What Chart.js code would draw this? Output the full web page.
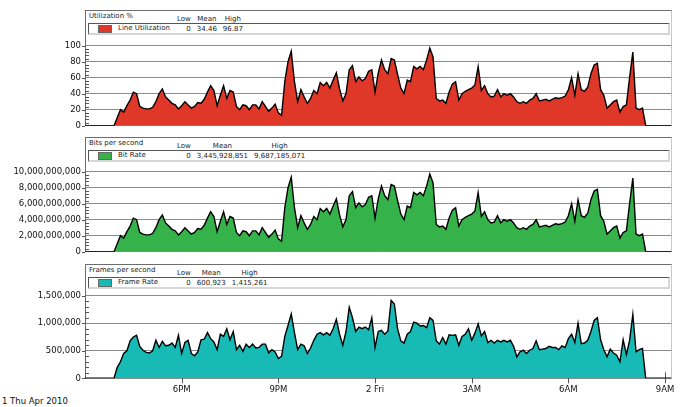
<!DOCTYPE html>
<html lang="en">
<head>
<meta charset="UTF-8">
<title>Link Statistics</title>
<script src="https://cdn.jsdelivr.net/npm/chart.js"></script>
<style>
  body { margin: 0; background: #fff; font-family: 'DejaVu Sans', sans-serif; color: #222; }
  #page { position: relative; width: 684px; height: 407px; overflow: hidden; }
  .panel { position: absolute; left: 85px; width: 585px; border-top: 1px solid #6d6d6d; border-left: 1px solid #6d6d6d; border-right: 1px solid #c8c8c8; }
  .title { position: absolute; left: 3px; top: 0; font-size: 7px; line-height: 10px; white-space: nowrap; }
  .legend { position: absolute; left: 2px; right: 1px; top: 12px; height: 9px; border-top: 1px solid #555; border-left: 1px solid #555; border-bottom: 2px solid #d6d6d6; border-right: 2px solid #d6d6d6; }
  .swatch { position: absolute; left: 9px; top: 1px; width: 12px; height: 6px; border: 1px solid #666; }
  .name { position: absolute; left: 29px; top: 0; font-size: 7px; line-height: 9px; white-space: nowrap; }
  .stats { position: absolute; left: 91px; top: 3px; display: flex; gap: 6px; font-size: 7px; line-height: 10px; white-space: nowrap; }
  .stats div { display: flex; flex-direction: column; align-items: center; }
  .stats div:first-child { align-items: flex-end; }
  .date { position: absolute; left: 2px; top: 396px; font-size: 8.5px; line-height: 11px; color: #111; }
  canvas { position: absolute; left: 0; }
</style>
</head>
<body>
<div id="page">
  <div class="panel" style="top:10px;height:115px">
    <div class="title">Utilization %</div>
    <div class="stats"><div><span>Low</span><span>0</span></div><div><span>Mean</span><span>34.46</span></div><div><span>High</span><span>96.87</span></div></div>
    <div class="legend"><div class="swatch" style="background:#e03828"></div><div class="name">Line Utilization</div></div>
  </div>
  <div class="panel" style="top:137px;height:114px">
    <div class="title">Bits per second</div>
    <div class="stats"><div><span>Low</span><span>0</span></div><div><span>Mean</span><span>3,445,928,851</span></div><div><span>High</span><span>9,687,185,071</span></div></div>
    <div class="legend"><div class="swatch" style="background:#35b34a"></div><div class="name">Bit Rate</div></div>
  </div>
  <div class="panel" style="top:264px;height:114px">
    <div class="title">Frames per second</div>
    <div class="stats"><div><span>Low</span><span>0</span></div><div><span>Mean</span><span>600,923</span></div><div><span>High</span><span>1,415,261</span></div></div>
    <div class="legend"><div class="swatch" style="background:#18bab6"></div><div class="name">Frame Rate</div></div>
  </div>
  <div class="date">1 Thu Apr 2010</div>
  <canvas id="utilChart" width="684" height="132" style="top:0"></canvas>
  <canvas id="bitsChart" width="684" height="132" style="top:126px"></canvas>
  <canvas id="framesChart" width="684" height="152" style="top:255px"></canvas>
</div>

<script>
  // samples every 6 minutes, starting 3:00 PM Thu 1 Apr 2010
  const stepHours = 0.1;
  const tickHours = [3, 6, 9, 12, 15, 18];
  const tickLabels = ["6PM", "9PM", "2 Fri", "3AM", "6AM", "9AM"];

  // Line Utilization (%)
  const utilization = [
    0, 0, 0, 0, 0, 0, 0, 0, 0, 0,
    10, 20, 17, 25, 32, 42, 40, 24, 22, 21,
    21, 23, 30, 40, 46, 36, 32, 28, 26, 21,
    25, 30, 26, 22, 24, 29, 28, 33, 42, 50,
    44, 25, 38, 50, 34, 44, 42, 24, 20, 26,
    25, 20, 26, 26, 21, 30, 24, 18, 22, 27,
    16, 13, 55, 80, 93, 55, 30, 45, 36, 28,
    34, 44, 40, 54, 50, 54, 47, 57, 66, 46,
    31, 40, 70, 75, 55, 61, 56, 59, 68, 70,
    42, 66, 82, 70, 65, 84, 82, 64, 47, 40,
    57, 55, 74, 71, 74, 70, 82, 97, 86, 34,
    31, 32, 28, 42, 52, 55, 32, 40, 43, 45,
    47, 51, 74, 44, 50, 40, 36, 37, 45, 36,
    40, 38, 40, 36, 30, 28, 30, 28, 32, 34,
    40, 31, 32, 33, 31, 33, 35, 34, 35, 37,
    45, 60, 38, 65, 45, 43, 48, 65, 76, 78,
    45, 38, 22, 26, 30, 32, 17, 24, 26, 60,
    92, 22, 20, 22,
    0, 0, 0, 0, 0, 0, 0, 0, 0
  ];

  // Bit Rate (Gbit/s)
  const bitRateGbps = [
    0, 0, 0, 0, 0, 0, 0, 0, 0, 0,
    1.0, 2.0, 1.7, 2.5, 3.2, 4.2, 4.0, 2.4, 2.2, 2.1,
    2.1, 2.3, 3.0, 4.0, 4.6, 3.6, 3.2, 2.8, 2.6, 2.1,
    2.5, 3.0, 2.6, 2.2, 2.4, 2.9, 2.8, 3.3, 4.2, 5.0,
    4.4, 2.5, 3.8, 5.0, 3.4, 4.4, 4.2, 2.4, 2.0, 2.6,
    2.5, 2.0, 2.6, 2.6, 2.1, 3.0, 2.4, 1.8, 2.2, 2.7,
    1.6, 1.3, 5.5, 8.0, 9.3, 5.5, 3.0, 4.5, 3.6, 2.8,
    3.4, 4.4, 4.0, 5.4, 5.0, 5.4, 4.7, 5.7, 6.6, 4.6,
    3.1, 4.0, 7.0, 7.5, 5.5, 6.1, 5.6, 5.9, 6.8, 7.0,
    4.2, 6.6, 8.2, 7.0, 6.5, 8.4, 8.2, 6.4, 4.7, 4.0,
    5.7, 5.5, 7.4, 7.1, 7.4, 7.0, 8.2, 9.7, 8.6, 3.4,
    3.1, 3.2, 2.8, 4.2, 5.2, 5.5, 3.2, 4.0, 4.3, 4.5,
    4.7, 5.1, 7.4, 4.4, 5.0, 4.0, 3.6, 3.7, 4.5, 3.6,
    4.0, 3.8, 4.0, 3.6, 3.0, 2.8, 3.0, 2.8, 3.2, 3.4,
    4.0, 3.1, 3.2, 3.3, 3.1, 3.3, 3.5, 3.4, 3.5, 3.7,
    4.5, 6.0, 3.8, 6.5, 4.5, 4.3, 4.8, 6.5, 7.6, 7.8,
    4.5, 3.8, 2.2, 2.6, 3.0, 3.2, 1.7, 2.4, 2.6, 6.0,
    9.2, 2.2, 2.0, 2.2,
    0, 0, 0, 0, 0, 0, 0, 0, 0
  ];

  // Frame Rate (thousand frames/s)
  const frameRateK = [
    0, 0, 0, 0, 0, 0, 0, 0, 0, 0,
    200, 300, 450, 500, 680, 750, 780, 580, 510, 470,
    460, 500, 690, 560, 670, 590, 600, 640, 560, 780,
    450, 650, 690, 450, 410, 480, 700, 710, 830, 720,
    660, 520, 800, 760, 900, 700, 850, 520, 600, 490,
    620, 560, 620, 550, 560, 620, 620, 460, 520, 480,
    360, 400, 760, 960, 1170, 830, 520, 620, 590, 450,
    550, 690, 800, 830, 790, 830, 780, 900, 1070, 800,
    600, 850, 1290, 1100, 850, 930, 900, 930, 880, 1100,
    560, 850, 870, 800, 860, 1415, 1350, 900, 680, 640,
    800, 850, 1020, 1000, 950, 960, 920, 1100, 1050, 680,
    620, 740, 620, 790, 780, 790, 600, 760, 800, 900,
    690, 820, 990, 770, 850, 650, 690, 640, 690, 660,
    690, 660, 690, 580, 390, 480, 510, 450, 510, 540,
    680, 520, 530, 540, 580, 560, 560, 520, 590, 560,
    720, 800, 650, 1000, 630, 640, 690, 850, 1050, 1100,
    700, 520, 390, 530, 460, 420, 300, 700, 430, 690,
    1160, 480, 520, 540,
    0, 0, 0, 0, 0, 0, 0, 0, 0
  ];

  const tickFont = { family: "'DejaVu Sans', sans-serif", size: 8.5 };

  function isMajor(v, major) {
    return Math.abs(v / major - Math.round(v / major)) < 1e-6;
  }

  // small tick marks: major outside the axis, minor inside; x ticks cross the baseline
  const axisMarks = {
    id: 'axisMarks',
    beforeDatasetsDraw(chart, args, opts) {
      const { ctx, chartArea: a, scales } = chart;
      ctx.save();
      ctx.strokeStyle = '#555';
      ctx.lineWidth = 1;
      ctx.beginPath();
      scales.y.ticks.forEach(t => {
        const py = Math.round(scales.y.getPixelForValue(t.value)) + 0.5;
        if (isMajor(t.value, opts.major)) {
          ctx.moveTo(a.left - 3, py); ctx.lineTo(a.left, py);
        } else {
          ctx.moveTo(a.left, py); ctx.lineTo(a.left + 4, py);
        }
      });
      if (opts.xTicks) {
        scales.x.ticks.forEach(t => {
          const px = Math.round(scales.x.getPixelForValue(t.value)) + 0.5;
          ctx.moveTo(px, a.bottom - 6); ctx.lineTo(px, a.bottom + 5);
        });
      }
      ctx.stroke();
      ctx.restore();
    }
  };

  function makePanel(id, values, unit, color, yMax, major, padTop, padBottom, showX) {
    const points = values.map((v, i) => ({ x: i * stepHours, y: v * unit }));
    return new Chart(document.getElementById(id), {
      type: 'line',
      data: {
        datasets: [{
          data: points,
          fill: 'origin',
          backgroundColor: color,
          borderColor: '#000',
          borderWidth: 1.4,
          pointRadius: 0,
          tension: 0
        }]
      },
      options: {
        responsive: false,
        animation: false,
        layout: { padding: { top: padTop, bottom: padBottom, left: 0, right: 12.5 } },
        plugins: {
          legend: { display: false },
          tooltip: { enabled: false },
          axisMarks: { major: major, xTicks: showX }
        },
        scales: {
          x: {
            type: 'linear',
            min: 0,
            max: 18.2,
            display: showX,
            afterBuildTicks: s => { s.ticks = tickHours.map(v => ({ value: v })); },
            afterFit: s => { s.height = showX ? 28.7 : 0; },
            grid: { display: false, drawTicks: false },
            border: { display: false },
            ticks: {
              padding: 6.5,
              color: '#111',
              font: tickFont,
              maxRotation: 0,
              autoSkip: false,
              callback: (v, i) => tickLabels[i]
            }
          },
          y: {
            min: 0,
            max: yMax,
            afterFit: s => { s.width = 85; s.paddingTop = 0; s.paddingBottom = 0; },
            border: { color: '#666' },
            grid: {
              drawTicks: false,
              color: c => isMajor(c.tick.value, major) ? '#8c8c8c' : 'rgba(0,0,0,0)'
            },
            ticks: {
              stepSize: major / 5,
              padding: 4,
              color: '#111',
              font: tickFont,
              autoSkip: false,
              callback: v => isMajor(v, major) ? Number(v).toLocaleString('en-US') : ''
            }
          }
        }
      },
      plugins: [axisMarks]
    });
  }

  makePanel('utilChart', utilization, 1, '#e03828', 100, 20, 45.7, 6.3, false);
  makePanel('bitsChart', bitRateGbps, 1e9, '#35b34a', 10e9, 2e9, 45.7, 6.3, false);
  makePanel('framesChart', frameRateK, 1000, '#18bab6', 1.5e6, 5e5, 40.7, 0, true);
</script>
</body>
</html>
